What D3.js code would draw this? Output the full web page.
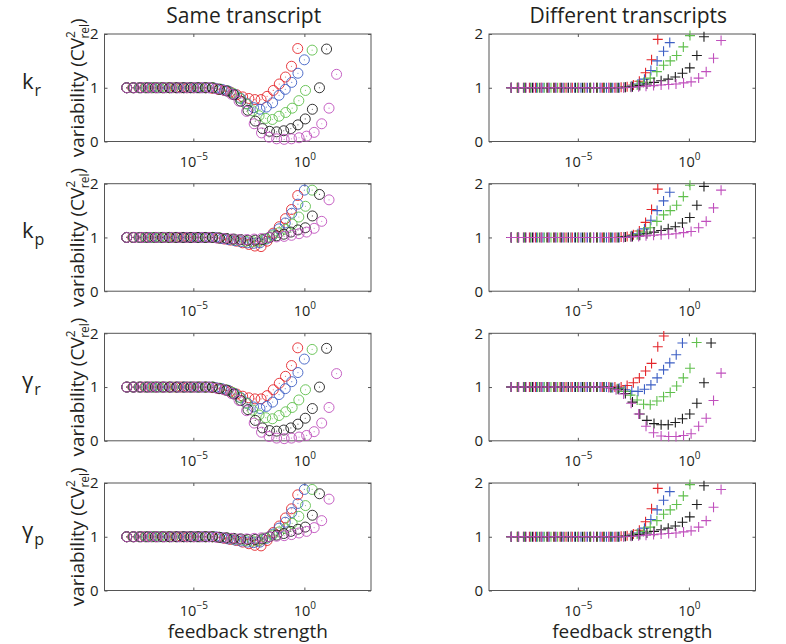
<!DOCTYPE html>
<html><head><meta charset="utf-8">
<script src="https://cdn.jsdelivr.net/npm/d3@7"></script>
<style>
body{margin:0;background:#fff}
svg{display:block}
text{font-family:"Open Sans",sans-serif;fill:#231f20}
</style>
</head><body>
<svg id="chart" width="786" height="644"></svg>
<script>
// ---------- DATA ----------
// log10(feedback strength) sampled for each series
const log10FeedbackRed     = [-8,-7.73,-7.45,-7.18,-6.9,-6.63,-6.35,-6.08,-5.8,-5.53,-5.25,-4.98,-4.7,-4.43,-4.15,-3.88,-3.6,-3.33,-3.05,-2.78,-2.5,-2.23,-1.95,-1.68,-1.4,-1.13,-0.85,-0.58,-0.3];
const log10FeedbackBlue    = [-8,-7.71,-7.43,-7.14,-6.86,-6.57,-6.29,-6,-5.71,-5.43,-5.14,-4.86,-4.57,-4.29,-4,-3.71,-3.43,-3.14,-2.86,-2.57,-2.29,-2,-1.71,-1.43,-1.14,-0.86,-0.57,-0.29,0];
const log10FeedbackGreen   = [-8,-7.7,-7.4,-7.11,-6.81,-6.51,-6.21,-5.91,-5.61,-5.32,-5.02,-4.72,-4.42,-4.12,-3.83,-3.53,-3.23,-2.93,-2.63,-2.33,-2.04,-1.74,-1.44,-1.14,-0.84,-0.55,-0.25,0.05,0.35];
const log10FeedbackBlack   = [-8,-7.68,-7.36,-7.04,-6.71,-6.39,-6.07,-5.75,-5.43,-5.11,-4.79,-4.46,-4.14,-3.82,-3.5,-3.18,-2.86,-2.54,-2.21,-1.89,-1.57,-1.25,-0.93,-0.61,-0.29,0.04,0.36,0.68,1.0];
const log10FeedbackMagenta = [-8,-7.66,-7.33,-6.99,-6.65,-6.31,-5.98,-5.64,-5.3,-4.96,-4.63,-4.29,-3.95,-3.61,-3.28,-2.94,-2.6,-2.26,-1.93,-1.59,-1.25,-0.91,-0.58,-0.24,0.1,0.44,0.78,1.11,1.45];

// Same transcript, k_r and gamma_r  (variability CV^2 rel)
const sameKrRed     = [1,1,1,1,1,1,1,1,1,1,1,1,1,1,0.99,0.97,0.95,0.92,0.87,0.83,0.8,0.78,0.78,0.84,0.95,1.07,1.2,1.4,1.73];
const sameKrBlue    = [1,1,1,1,1,1,1,1,1,1,1,1,1,1,0.99,0.97,0.94,0.88,0.8,0.7,0.63,0.6,0.64,0.72,0.86,0.97,1.1,1.27,1.52];
const sameKrGreen   = [1,1,1,1,1,1,1,1,1,1,1,1,1,1,0.98,0.95,0.9,0.81,0.7,0.57,0.48,0.43,0.41,0.47,0.54,0.62,0.76,0.95,1.7];
const sameKrBlack   = [1,1,1,1,1,1,1,1,1,1,1,1,1,0.97,0.94,0.87,0.75,0.58,0.38,0.24,0.19,0.18,0.2,0.24,0.31,0.42,0.6,1.0,1.72];
const sameKrMagenta = [1,1,1,1,1,1,1,1,1,1,1,1,0.98,0.95,0.88,0.75,0.56,0.33,0.16,0.08,0.05,0.04,0.05,0.07,0.1,0.17,0.33,0.62,1.25];

// Same transcript, k_p and gamma_p
const sameKpRed     = [1,1,1,1,1,1,1,1,1,1,1,1,1,1,1,0.99,0.97,0.95,0.93,0.9,0.87,0.84,0.83,0.93,1.08,1.2,1.35,1.52,1.78];
const sameKpBlue    = [1,1,1,1,1,1,1,1,1,1,1,1,1,1,1,0.98,0.96,0.94,0.92,0.9,0.89,0.9,0.97,1.05,1.16,1.27,1.45,1.62,1.88];
const sameKpGreen   = [1,1,1,1,1,1,1,1,1,1,1,1,1,1,0.99,0.98,0.96,0.95,0.93,0.92,0.93,0.98,1.03,1.09,1.15,1.25,1.38,1.58,1.88];
const sameKpBlack   = [1,1,1,1,1,1,1,1,1,1,1,1,1,0.99,0.98,0.97,0.96,0.95,0.95,0.96,1.0,1.03,1.06,1.1,1.14,1.18,1.4,1.8,null];
const sameKpMagenta = [1,1,1,1,1,1,1,1,1,1,1,1,0.99,0.98,0.97,0.96,0.96,0.97,0.98,1.0,1.01,1.02,1.04,1.07,1.1,1.17,1.3,1.7,null];

// Different transcripts, k_r, k_p and gamma_p
const diffKrRed     = [1,1,1,1,1,1,1,1,1,1,1,1,1,1,1,1,1,1,1.01,1.02,1.05,1.12,1.28,1.52,1.9,null,null,null,null];
const diffKrBlue    = [1,1,1,1,1,1,1,1,1,1,1,1,1,1,1,1,1,1,1.01,1.03,1.07,1.16,1.32,1.5,1.68,1.84,null,null,null];
const diffKrGreen   = [1,1,1,1,1,1,1,1,1,1,1,1,1,1,1,1,1,1.01,1.02,1.05,1.1,1.18,1.3,1.42,1.5,1.6,1.76,1.97,null];
const diffKrBlack   = [1,1,1,1,1,1,1,1,1,1,1,1,1,1,1,1,1.01,1.02,1.04,1.07,1.1,1.13,1.16,1.2,1.27,1.37,1.6,1.95,null];
const diffKrMagenta = [1,1,1,1,1,1,1,1,1,1,1,1,1,1,1,1,1.01,1.02,1.03,1.04,1.05,1.06,1.07,1.09,1.11,1.18,1.3,1.55,1.88];

// Different transcripts, gamma_r
const diffGrRed     = [1,1,1,1,1,1,1,1,1,1,1,1,1,1,1,1,1,1,1,1.03,1.08,1.17,1.3,1.44,1.75,1.95,null,null,null];
const diffGrBlue    = [1,1,1,1,1,1,1,1,1,1,1,1,1,1,1,1,0.99,0.98,0.95,0.92,0.92,0.96,1.04,1.17,1.32,1.45,1.6,1.82,null];
const diffGrGreen   = [1,1,1,1,1,1,1,1,1,1,1,1,1,1,1,0.99,0.97,0.92,0.85,0.76,0.68,0.67,0.74,0.82,0.9,1.02,1.17,1.35,1.83];
const diffGrBlack   = [1,1,1,1,1,1,1,1,1,1,1,1,1,1,0.99,0.96,0.88,0.72,0.5,0.38,0.32,0.3,0.3,0.34,0.41,0.5,0.7,1.08,1.82];
const diffGrMagenta = [1,1,1,1,1,1,1,1,1,1,1,1,1,0.99,0.95,0.87,0.7,0.5,0.27,0.15,0.09,0.08,0.08,0.1,0.13,0.27,0.42,0.75,1.26];

const seriesNames  = ["red","blue","green","black","magenta"];
const seriesColors = ["#e4262b","#3d5fc4","#5fbf4c","#1d1d1d","#c050bd"];
const rowLabels    = [["k","r"],["k","p"],["γ","r"],["γ","p"]];
const columnTitles = ["Same transcript","Different transcripts"];
const yTicks       = [0,1,2];
const xTicks       = [1e-5,1e0];
const xTickExponents = ["−5","0"];

// ---------- LAYOUT ----------
const feedbackX = [log10FeedbackRed,log10FeedbackBlue,log10FeedbackGreen,log10FeedbackBlack,log10FeedbackMagenta];
const panelData = [
  [[sameKrRed,sameKrBlue,sameKrGreen,sameKrBlack,sameKrMagenta],[diffKrRed,diffKrBlue,diffKrGreen,diffKrBlack,diffKrMagenta]],
  [[sameKpRed,sameKpBlue,sameKpGreen,sameKpBlack,sameKpMagenta],[diffKrRed,diffKrBlue,diffKrGreen,diffKrBlack,diffKrMagenta]],
  [[sameKrRed,sameKrBlue,sameKrGreen,sameKrBlack,sameKrMagenta],[diffGrRed,diffGrBlue,diffGrGreen,diffGrBlack,diffGrMagenta]],
  [[sameKpRed,sameKpBlue,sameKpGreen,sameKpBlack,sameKpMagenta],[diffKrRed,diffKrBlue,diffKrGreen,diffKrBlack,diffKrMagenta]]
];

const svg = d3.select("#chart");
const colX = [[104.5,371],[489,755.5]];
const rowTop = [34,183.7,333.3,483];
const ph = 107.5;
const axisColor = "#555";

rowTop.forEach((top,ri)=>{
  colX.forEach((cx,ci)=>{
    const x = d3.scaleLog().domain([1e-9,1e3]).range(cx);
    const y = d3.scaleLinear().domain([0,2]).range([top+ph, top]);
    const g = svg.append("g");

    g.append("rect").attr("x",cx[0]).attr("y",top).attr("width",cx[1]-cx[0]).attr("height",ph)
      .attr("fill","none").attr("stroke",axisColor).attr("stroke-width",1);

    const ax = g.append("g").attr("transform",`translate(0,${top+ph})`)
      .call(d3.axisBottom(x).tickValues(xTicks).tickSizeInner(-3).tickSizeOuter(0).tickFormat(()=>""));
    ax.select(".domain").remove();
    ax.selectAll(".tick line").attr("stroke",axisColor);
    ax.selectAll(".tick text").each(function(d,i){
      const t = d3.select(this).attr("font-size",14.5).attr("fill","#231f20").attr("y",25).attr("dy",null);
      t.append("tspan").text("10");
      t.append("tspan").attr("font-size",10).attr("dy",-7).text(xTickExponents[i]);
    });
    const axT = g.append("g").attr("transform",`translate(0,${top})`)
      .call(d3.axisTop(x).tickValues(xTicks).tickSizeInner(-3).tickSizeOuter(0).tickFormat(()=>""));
    axT.select(".domain").remove(); axT.selectAll(".tick line").attr("stroke",axisColor);

    const ay = g.append("g").attr("transform",`translate(${cx[0]},0)`)
      .call(d3.axisLeft(y).tickValues(yTicks).tickSizeInner(-3).tickSizeOuter(0).tickPadding(6).tickFormat(d3.format("d")));
    ay.select(".domain").remove();
    ay.selectAll(".tick line").attr("stroke",axisColor);
    ay.selectAll(".tick text").attr("font-size",15).attr("fill","#231f20").attr("font-family","'Open Sans',sans-serif");
    const ayR = g.append("g").attr("transform",`translate(${cx[1]},0)`)
      .call(d3.axisRight(y).tickValues(yTicks).tickSizeInner(-3).tickSizeOuter(0).tickFormat(()=>""));
    ayR.select(".domain").remove(); ayR.selectAll(".tick line").attr("stroke",axisColor);

    const series = panelData[ri][ci];
    series.forEach((vals,si)=>{
      const pts = vals.map((v,k)=>({x:Math.pow(10,feedbackX[si][k]), y:v})).filter(p=>p.y!==null);
      const col = seriesColors[si];
      const sg = g.append("g").attr("class","series-"+seriesNames[si]);
      if(ci===0){
        sg.selectAll("circle.m").data(pts).join("circle").attr("class","m")
          .attr("cx",d=>x(d.x)).attr("cy",d=>y(d.y)).attr("r",5)
          .attr("fill","none").attr("stroke",col).attr("stroke-width",0.9);
        sg.selectAll("circle.c").data(pts).join("circle").attr("class","c")
          .attr("cx",d=>x(d.x)).attr("cy",d=>y(d.y)).attr("r",0.6)
          .attr("fill",col).attr("opacity",0.7);
      } else {
        sg.selectAll("path").data(pts).join("path")
          .attr("d",d=>{const px=x(d.x),py=y(d.y),s=5;return `M${px-s},${py}H${px+s}M${px},${py-s}V${py+s}`;})
          .attr("stroke",col).attr("stroke-width",1.1).attr("fill","none");
      }
    });
  });

  const cy = rowTop[ri]+ph/2;
  const yl = svg.append("text").attr("transform",`translate(84,${cy}) rotate(-90)`)
    .attr("text-anchor","middle").attr("font-size",19);
  yl.append("tspan").text("variability (CV");
  yl.append("tspan").attr("font-size",12).attr("dy",-9).text("2");
  yl.append("tspan").attr("font-size",12).attr("dx",-7.5).attr("dy",14).text("rel");
  yl.append("tspan").attr("dy",-5).text(")");

  const rl = svg.append("text").attr("x",22).attr("y",rowTop[ri]+ph/2+1).attr("font-size",22)
    .attr("font-family","'DejaVu Sans',sans-serif");
  rl.append("tspan").text(rowLabels[ri][0]);
  rl.append("tspan").attr("font-size",16).attr("dy",7).attr("dx",1).attr("font-family","'Open Sans',sans-serif").text(rowLabels[ri][1]);
});

columnTitles.forEach((t,ci)=>{
  svg.append("text").attr("x",(colX[ci][0]+colX[ci][1])/2+6).attr("y",23).attr("text-anchor","middle")
    .attr("font-size",21).text(t);
  svg.append("text").attr("x",(colX[ci][0]+colX[ci][1])/2+10).attr("y",638).attr("text-anchor","middle")
    .attr("font-size",19).text("feedback strength");
});
</script>
</body></html>
